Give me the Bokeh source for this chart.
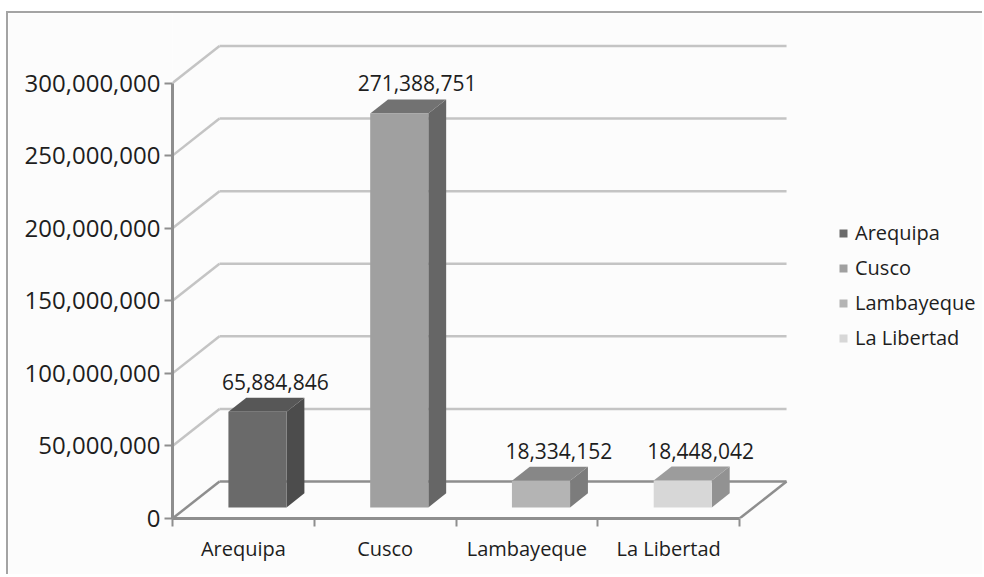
from bokeh.plotting import figure
from bokeh.models import (ColumnDataSource, FixedTicker, NumeralTickFormatter,
                          Legend, LegendItem, Range1d)
from bokeh.embed import file_html
from bokeh.resources import INLINE
from bokeh.core.properties import value

# ---------------- data ----------------
categories = ["Arequipa", "Cusco", "Lambayeque", "La Libertad"]
values = [65884846, 271388751, 18334152, 18448042]
y_ticks = [0, 50000000, 100000000, 150000000, 200000000, 250000000, 300000000]

front_colors = ["#6a6a6a", "#a0a0a0", "#b4b4b4", "#d7d7d7"]
top_colors = ["#575757", "#727272", "#878787", "#9c9c9c"]
side_colors = ["#4c4c4c", "#666666", "#7c7c7c", "#929292"]

# ---------------- projection constants ----------------
DX = 0.3316      # depth shift (category units)
DY = 25.5e6      # depth shift (value units)
F0 = 0.30        # front of bar (depth fraction)
DD = 0.38        # bar depth (fraction)
HALF = 0.205     # half bar width (category units)

FONT = value("Open Sans")
TXT = "#1e1e1e"
GRID = "#c4c4c4"
FLOOR = "#8e8e8e"
FS = "20px"

p = figure(width=976, height=563,
           x_range=Range1d(0, 5.728), y_range=Range1d(0, 347.9e6),
           output_backend="svg", toolbar_location=None,
           min_border_left=164, min_border_right=0,
           min_border_top=0, min_border_bottom=58,
           background_fill_color="#fcfcfc", border_fill_color="#fcfcfc",
           outline_line_color=None)
p.styles = {"border-top": "2px solid #a4a4a4", "border-left": "2px solid #a4a4a4",
            "margin-top": "11px", "margin-left": "6px"}
p.grid.visible = False

n = len(categories)

# ---------------- back wall gridlines & left wall diagonals ----------------
gx0, gy0, gx1, gy1, gc = [], [], [], [], []
for t in y_ticks:
    c = FLOOR if t == 0 else GRID
    gx0 += [0, DX]; gy0 += [t, t + DY]
    gx1 += [DX, n + DX]; gy1 += [t + DY, t + DY]
    gc += [c, c]
# right edge of floor
gx0.append(n); gy0.append(0); gx1.append(n + DX); gy1.append(DY); gc.append(FLOOR)
p.segment(x0=gx0, y0=gy0, x1=gx1, y1=gy1, line_color=gc, line_width=2.5)

# ---------------- bars ----------------
xl = [i + 0.5 - HALF + F0 * DX for i in range(n)]
xr = [i + 0.5 + HALF + F0 * DX for i in range(n)]
yb = [F0 * DY for _ in range(n)]
yt = [v + F0 * DY for v in values]

front_src = ColumnDataSource(dict(left=xl, right=xr, bottom=yb, top=yt,
                                  color=front_colors, label=categories))

top_xs = [[a, b, b + DD * DX, a + DD * DX] for a, b in zip(xl, xr)]
top_ys = [[t, t, t + DD * DY, t + DD * DY] for t in yt]
side_xs = [[b, b, b + DD * DX, b + DD * DX] for b in xr]
side_ys = [[lo, hi, hi + DD * DY, lo + DD * DY] for lo, hi in zip(yb, yt)]

p.patches(xs=side_xs, ys=side_ys, fill_color=side_colors, line_color=None)
p.patches(xs=top_xs, ys=top_ys, fill_color=top_colors, line_color=None)
front = p.quad(left="left", right="right", bottom="bottom", top="top",
               fill_color="color", line_color=None, source=front_src)

# ---------------- data labels ----------------
lab_x = [(a + b) / 2 + DD * DX for a, b in zip(xl, xr)]
lab_y = [t + DD * DY for t in yt]
p.text(x=lab_x, y=lab_y, text=[f"{v:,}" for v in values],
       text_align="center", text_baseline="middle", y_offset=-16,
       text_font=FONT, text_font_size="21px", text_color=TXT)

# ---------------- axes ----------------
ya = p.yaxis[0]
ya.ticker = FixedTicker(ticks=y_ticks, minor_ticks=[])
ya.formatter = NumeralTickFormatter(format="0,0")
ya.bounds = (0, y_ticks[-1])
ya.axis_line_color = FLOOR
ya.axis_line_width = 3
ya.major_tick_line_color = FLOOR
ya.major_tick_line_width = 2
ya.major_tick_out = 8
ya.major_tick_in = 0
ya.major_label_standoff = 4
ya.major_label_text_font = "Open Sans"
ya.major_label_text_font_size = "24px"
ya.major_label_text_color = TXT

xa = p.xaxis[0]
centers = [i + 0.5 for i in range(n)]
xa.ticker = FixedTicker(ticks=centers, minor_ticks=list(range(n + 1)))
xa.major_label_overrides = {c: lab for c, lab in zip(centers, categories)}
xa.bounds = (0, n)
xa.axis_line_color = FLOOR
xa.axis_line_width = 3
xa.major_tick_out = 0
xa.major_tick_in = 0
xa.major_tick_line_color = None
xa.minor_tick_out = 8
xa.minor_tick_in = 0
xa.minor_tick_line_color = FLOOR
xa.minor_tick_line_width = 2
xa.major_label_standoff = 8
xa.major_label_text_font = "Open Sans"
xa.major_label_text_font_size = FS
xa.major_label_text_color = TXT

# ---------------- legend ----------------
items = [LegendItem(label=c, renderers=[front], index=i) for i, c in enumerate(categories)]
legend = Legend(items=items, location=(666, 167), orientation="vertical",
                glyph_width=10, glyph_height=10, label_height=20, spacing=8,
                label_standoff=7, padding=0, margin=0,
                border_line_color=None, background_fill_alpha=0,
                label_text_font="Open Sans", label_text_font_size=FS,
                label_text_color=TXT)
p.add_layout(legend)

open("out.html", "w").write(file_html(p, INLINE))
